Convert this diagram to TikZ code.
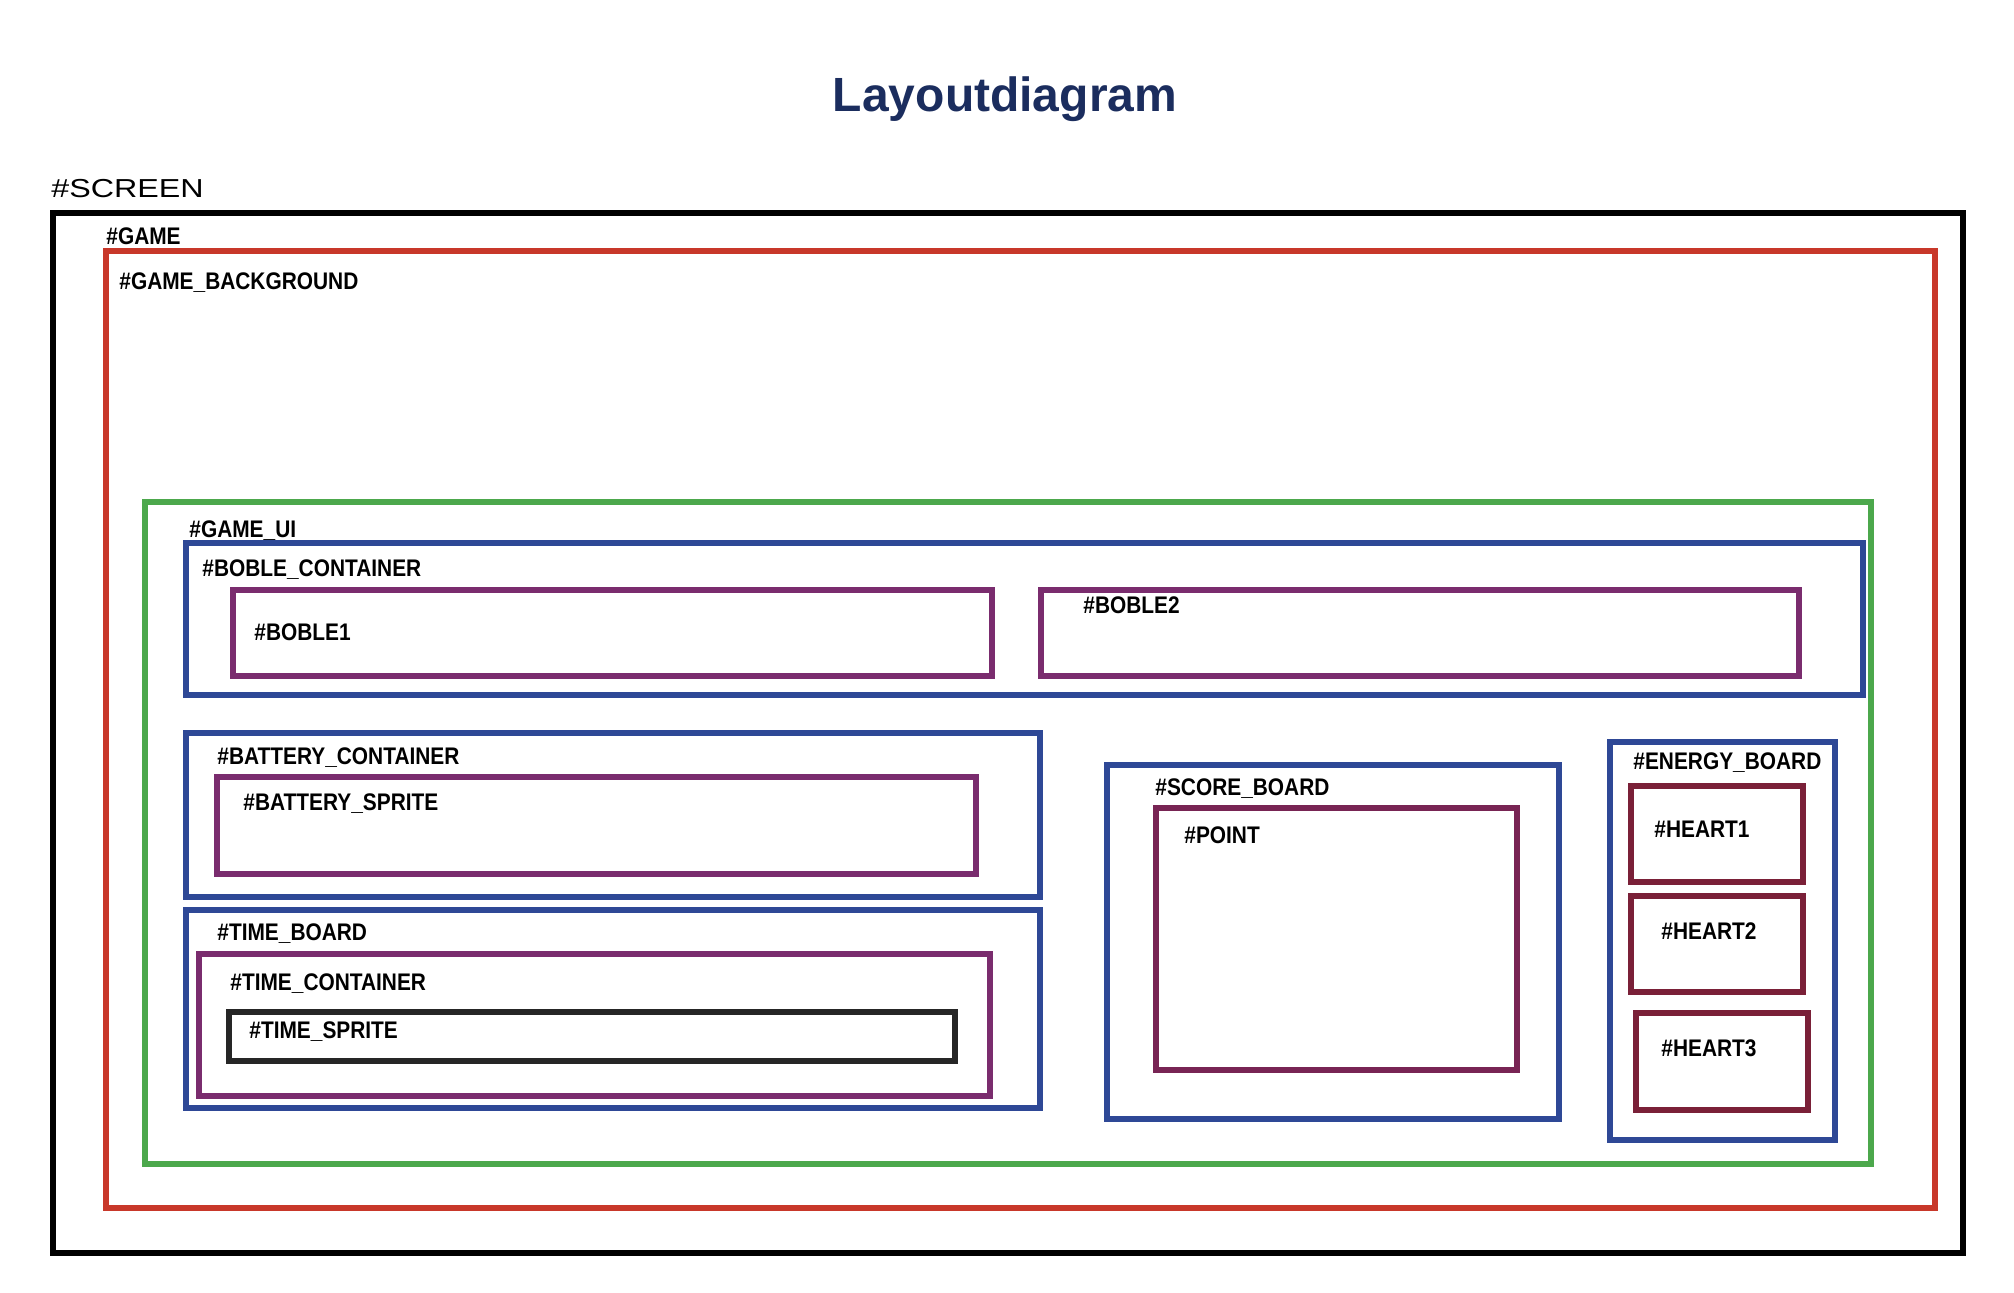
\documentclass[tikz,border=0pt]{standalone}
\usepackage{fontspec}
\setmainfont{Liberation Sans}
\newfontfamily\lblfont[FakeStretch=0.87]{Liberation Sans}
\newfontfamily\scrfont[FakeStretch=1.24]{Liberation Sans}
\usepackage{tikz}
\definecolor{titleblue}{HTML}{1B2D5E}
\definecolor{gamered}{HTML}{C8382A}
\definecolor{uigreen}{HTML}{4CA84C}
\definecolor{boardblue}{HTML}{2E4896}
\definecolor{spritepurple}{HTML}{7A2C6E}
\definecolor{pointpurple}{HTML}{782454}
\definecolor{heartred}{HTML}{7A2038}
\tikzset{
	frame/.style={line width=3.2pt},
	lbl/.style={anchor=base west, inner sep=0pt, font=\lblfont\bfseries\fontsize{12}{12}\selectfont},
}

\begin{document}
\begin{tikzpicture}[x=0.5pt,y=-0.5pt]
		\useasboundingbox (0,0) rectangle (2014,1292);
		\node[anchor=base, inner sep=0pt, text=titleblue, font=\bfseries\fontsize{24}{24}\selectfont] (title) at (1005,111) {Layoutdiagram};
		% screen and game
		\node[anchor=base west, inner sep=0pt, font=\scrfont\fontsize{13}{13}\selectfont] (lscreen) at (51,197) {\#SCREEN};
		\draw[frame,black] (53,213) rectangle (1963,1253);
		\node[lbl] (lgame) at (106,244) {\#GAME};
		\draw[frame,gamered] (106,251) rectangle (1935,1208);
		\node[lbl] (lbackground) at (119,289) {\#GAME\_BACKGROUND};
		\draw[frame,uigreen] (145,502) rectangle (1871,1164);
		\node[lbl] (lui) at (189,537) {\#GAME\_UI};
		% bobler
		\draw[frame,boardblue] (186,543) rectangle (1863,695);
		\node[lbl] (lbobles) at (202,576) {\#BOBLE\_CONTAINER};
		\draw[frame,spritepurple] (233,590) rectangle (992,676);
		\node[lbl] (lboble1) at (254,640) {\#BOBLE1};
		\draw[frame,spritepurple] (1041,590) rectangle (1799,676);
		\node[lbl] (lboble2) at (1083,613) {\#BOBLE2};
		% battery and time
		\draw[frame,boardblue] (186,733) rectangle (1040,897);
		\node[lbl] (lbattery) at (217,764) {\#BATTERY\_CONTAINER};
		\draw[frame,spritepurple] (217,777) rectangle (976,874);
		\node[lbl] (lbatsprite) at (243,810) {\#BATTERY\_SPRITE};
		\draw[frame,boardblue] (186,910) rectangle (1040,1108);
		\node[lbl] (ltimeboard) at (217,940) {\#TIME\_BOARD};
		\draw[frame,spritepurple] (199,954) rectangle (990,1096);
		\node[lbl] (ltimecont) at (230,990) {\#TIME\_CONTAINER};
		\draw[frame,black!85] (229,1012) rectangle (955,1061);
		\node[lbl] (ltimesprite) at (249,1038) {\#TIME\_SPRITE};
		% score
		\draw[frame,boardblue] (1107,765) rectangle (1559,1119);
		\node[lbl] (lscore) at (1155,795) {\#SCORE\_BOARD};
		\draw[frame,pointpurple] (1156,808) rectangle (1517,1070);
		\node[lbl] (lpoint) at (1184,843) {\#POINT};
		% energy
		\draw[frame,boardblue] (1610,742) rectangle (1835,1140);
		\node[lbl] (lenergy) at (1633,769) {\#ENERGY\_BOARD};
		\draw[frame,heartred] (1631,786) rectangle (1803,882);
		\node[lbl] (lheart1) at (1654,837) {\#HEART1};
		\draw[frame,heartred] (1631,896) rectangle (1803,992);
		\node[lbl] (lheart2) at (1661,939) {\#HEART2};
		\draw[frame,heartred] (1636,1013) rectangle (1808,1110);
		\node[lbl] (lheart3) at (1661,1056) {\#HEART3};
\end{tikzpicture}
\end{document}
